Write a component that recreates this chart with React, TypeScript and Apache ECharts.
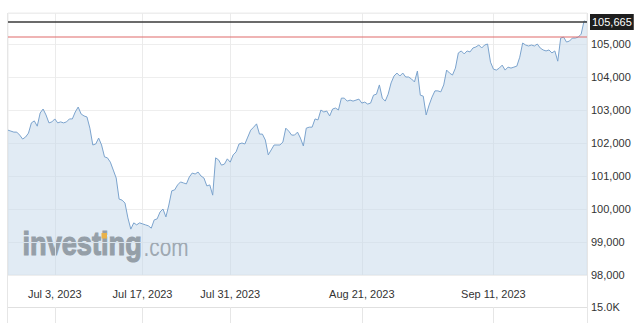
import React, { useEffect, useRef } from "react";
import * as echarts from "echarts";

// Closing values (3 readings per trading day)
const valuesJunJul = [
  102390, 102360, 102330, 102330, 102240, 102120, 102180, 102300, 102610, 102670,
  102510, 102910, 103030, 102850, 102610, 102640, 102730, 102610, 102640, 102610,
  102640, 102730, 102730, 102940, 103090, 102880, 102820, 102790, 102450, 101940,
  101970, 102150, 101940, 101580, 101550, 101420, 101180, 100940, 100300, 100270,
  100180, 99730, 99390, 99580, 99520, 99580, 99550, 99520, 99490, 99420,
];
const valuesLateJul = [
  99670, 99700, 99910, 100000, 99760, 100120, 100550, 100580, 100730, 100820,
  100790, 100760, 100970, 101090, 101060, 101120, 101000, 100940, 100700, 100730,
  100420, 101550, 101490, 101330, 101360, 101520, 101420, 101640, 101730, 101970,
  102000, 101970, 102180, 102390, 102480, 102580, 102270, 102270, 102090, 101640,
  101790, 101940, 101940, 101940, 102030, 102450, 102360, 102240, 102240, 102330,
];
const valuesAug = [
  102150, 101910, 102450, 102480, 102480, 102730, 102700, 103000, 102940, 102970,
  102820, 103030, 103060, 103000, 103360, 103360, 103270, 103300, 103270, 103300,
  103330, 103210, 103240, 103180, 103210, 103450, 103480, 103760, 103360, 103270,
  103480, 103820, 104030, 104120, 104030, 104120, 104000, 104000, 103940, 103850,
  104180, 103450, 103420, 102850, 103150, 103390, 103580, 103580, 103550, 103760,
];
const valuesSep = [
  104210, 104120, 104060, 104270, 104730, 104790, 104700, 104790, 104760, 104880,
  104910, 104970, 104880, 104970, 105000, 104450, 104240, 104210, 104270, 104360,
  104210, 104300, 104270, 104300, 104330, 104600, 105030, 104970, 104940, 104970,
  104940, 105000, 104880, 104820, 104790, 104820, 104730, 104790, 104480, 105180,
  105210, 105060, 105090, 105180, 105180, 105210, 105300, 105700, 105665,
];
const values = [...valuesJunJul, ...valuesLateJul, ...valuesAug, ...valuesSep];

const tickLabels = ["Jul 3, 2023", "Jul 17, 2023", "Jul 31, 2023", "Aug 21, 2023", "Sep 11, 2023"];
const yTicks = [98000, 99000, 100000, 101000, 102000, 103000, 104000, 105000];
const lastPrice = 105665;
const prevClose = 105212;
const volumeTop = 15000;

const MONTHS = ["Jan", "Feb", "Mar", "Apr", "May", "Jun", "Jul", "Aug", "Sep", "Oct", "Nov", "Dec"];
const HOURS = ["00:00", "08:00", "16:00"];

function buildCategories(n: number): string[] {
  const out: string[] = [];
  let t = Date.UTC(2023, 5, 23);
  let slot = 2;
  while (out.length < n) {
    const d = new Date(t);
    const dow = d.getUTCDay();
    if (dow !== 0 && dow !== 6) {
      const base = `${MONTHS[d.getUTCMonth()]} ${d.getUTCDate()}, ${d.getUTCFullYear()}`;
      out.push(slot === 0 ? base : `${base} ${HOURS[slot]}`);
      slot++;
      if (slot < 3) continue;
    }
    slot = 0;
    t += 86400000;
  }
  return out;
}

const categories = buildCategories(values.length);
const prevCloseLine = categories.map(() => prevClose);
const FONT = "'Liberation Sans', Arial, sans-serif";
const isTick = (_i: number, v: string) => tickLabels.includes(v);
const fmt = (v: number) => v.toLocaleString("en-US");

export default function App() {
  const ref = useRef<HTMLDivElement>(null);
  useEffect(() => {
    if (!ref.current) return;
    const chart = echarts.init(ref.current, null, { renderer: "svg" });
    chart.setOption({
      animation: false,
      backgroundColor: "#ffffff",
      grid: [
        { left: 8, right: 53, top: 13, bottom: 48, show: true, borderColor: "#ececec", borderWidth: 1 },
        { left: 8, right: 53, top: 307, height: 200 },
      ],
      xAxis: [
        {
          type: "category",
          data: categories,
          boundaryGap: false,
          axisLine: { show: false },
          axisTick: { show: false },
          axisLabel: {
            interval: isTick,
            hideOverlap: false,
            margin: 13,
            fontSize: 11,
            fontFamily: FONT,
            color: "#333",
          },
          splitLine: { show: true, interval: isTick, lineStyle: { color: "#ebebeb", width: 1 } },
        },
        {
          type: "category",
          gridIndex: 1,
          data: categories,
          boundaryGap: false,
          axisLine: { show: false },
          axisTick: { show: false },
          axisLabel: { show: false },
          splitLine: { show: true, interval: isTick, lineStyle: { color: "#e6e6e6", width: 1 } },
        },
      ],
      yAxis: [
        {
          type: "value",
          position: "right",
          min: yTicks[0],
          max: 105940,
          interval: 1000,
          axisLine: { show: false },
          axisTick: { show: false },
          axisLabel: {
            margin: 4,
            fontSize: 11,
            fontFamily: FONT,
            color: "#333",
            formatter: (v: number) => (yTicks.includes(v) ? fmt(v) : ""),
          },
          splitLine: { show: true, lineStyle: { color: "#eeeeee", width: 1 } },
        },
        {
          type: "value",
          gridIndex: 1,
          position: "right",
          min: 0,
          max: volumeTop,
          interval: volumeTop,
          axisLine: { show: false },
          axisTick: { show: false },
          axisLabel: {
            margin: 4,
            fontSize: 11,
            fontFamily: FONT,
            color: "#333",
            formatter: (v: number) => (v === volumeTop ? (v / 1000).toFixed(1) + "K" : ""),
          },
          splitLine: { show: true, lineStyle: { color: "#e0e0e0", width: 1 } },
        },
      ],
      series: [
        {
          name: "price",
          type: "line",
          data: values,
          xAxisIndex: 0,
          yAxisIndex: 0,
          symbol: "none",
          color: "#7ba3cd",
          lineStyle: { color: "#7ba3cd", width: 1 },
          areaStyle: { color: "#c4d8ea", opacity: 0.5, origin: "start" },
          markLine: {
            silent: true,
            symbol: "none",
            animation: false,
            lineStyle: { color: "#3a3a3a", width: 1.6, type: "solid" },
            label: {
              show: true,
              position: "end",
              distance: 3,
              formatter: () => fmt(lastPrice),
              color: "#ffffff",
              backgroundColor: "#1e1e1e",
              padding: [3, 2, 2, 2],
              fontSize: 11,
              fontFamily: FONT,
            },
            data: [{ yAxis: lastPrice }],
          },
        },
        {
          name: "prevClose",
          type: "line",
          data: prevCloseLine,
          xAxisIndex: 0,
          yAxisIndex: 0,
          symbol: "none",
          silent: true,
          color: "#e06a6a",
          lineStyle: { color: "#e06a6a", width: 1.2, type: "solid" },
          z: 3,
        },
      ],
      graphic: [
        {
          type: "line",
          shape: { x1: 7.5, y1: 13, x2: 7.5, y2: 323 },
          style: { stroke: "#e6e6e6", lineWidth: 1 },
          silent: true,
        },
        {
          type: "line",
          shape: { x1: 587.5, y1: 13, x2: 587.5, y2: 323 },
          style: { stroke: "#e6e6e6", lineWidth: 1 },
          silent: true,
        },
        {
          type: "group",
          left: 22,
          top: 226,
          silent: true,
          children: [
            {
              type: "text",
              x: 0,
              y: 0,
              scaleX: 0.8,
              style: {
                text: "investing",
                fontSize: 34,
                fontWeight: "bold",
                fontFamily: FONT,
                fill: "#666666",
                stroke: "#666666",
                lineWidth: 1.2,
              },
            },
            {
              type: "text",
              x: 121,
              y: 8,
              scaleX: 0.8,
              style: {
                text: ".com",
                fontSize: 26,
                fontFamily: FONT,
                fill: "#7a7a7a",
              },
            },
          ],
        },
        {
          type: "rect",
          shape: { x: 101.5, y: 233, width: 5.5, height: 5.5 },
          style: { fill: "#e9b24a" },
          silent: true,
          z: 100,
        },
      ],
    });
    return () => chart.dispose();
  }, []);
  return (
    <div
      ref={ref}
      style={{ position: "fixed", left: 0, top: 0, width: 640, height: 323, background: "#fff" }}
    />
  );
}
